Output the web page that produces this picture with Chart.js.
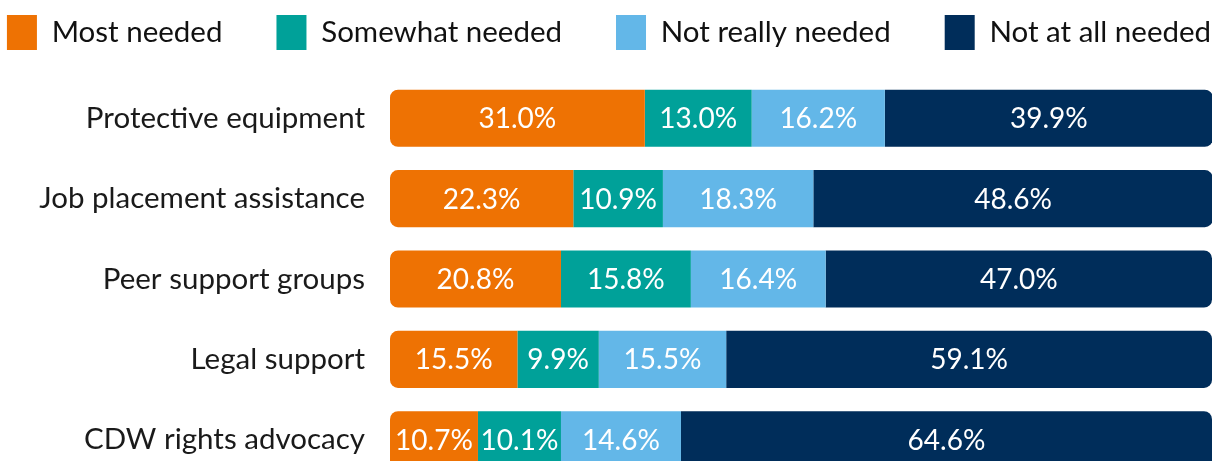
<!DOCTYPE html>
<html>
<head>
<meta charset="utf-8">
<script src="https://cdn.jsdelivr.net/npm/chart.js@4"></script>
<style>
  html, body { margin: 0; padding: 0; background: #fff; overflow: hidden; }
  /* canvas is wider than the window so the legend can spread like the original */
  #wrap { width: 1338px; height: 480px; margin-left: -60px; position: relative; }
</style>
</head>
<body>
<div id="wrap"><canvas id="needsChart"></canvas></div>
<script>
const categories = ['Protective equipment', 'Job placement assistance', 'Peer support groups', 'Legal support', 'CDW rights advocacy'];
const mostNeeded = [31.0, 22.3, 20.8, 15.5, 10.7];
const somewhatNeeded = [13.0, 10.9, 15.8, 9.9, 10.1];
const notReallyNeeded = [16.2, 18.3, 16.4, 15.5, 14.6];
const notAtAllNeeded = [39.9, 48.6, 47.0, 59.1, 64.6];

const FONT = 'Lato, "Noto Sans", sans-serif';
const R = 8;
const SHIFT = 60;      // canvas starts 60px left of the window
const RIGHT_GAP = 66;  // canvas extends 66px past the window
const TOP_PAD = -39;

// white % labels centred in each segment
const segmentLabels = {
    id: 'segmentLabels',
    afterDatasetsDraw(chart) {
        const ctx = chart.ctx;
        ctx.save();
        ctx.fillStyle = '#ffffff';
        ctx.font = `28px ${FONT}`;
        ctx.textAlign = 'center';
        ctx.textBaseline = 'middle';
        chart.data.datasets.forEach((ds, i) => {
            const meta = chart.getDatasetMeta(i);
            meta.data.forEach((bar, j) => {
                const x = (bar.x + bar.base) / 2;
                ctx.fillText(ds.data[j].toFixed(1) + '%', x, bar.y + 1);
            });
        });
        ctx.restore();
    }
};

// fixed legend block height -> chart area starts at y=78
const legendGap = {
    id: 'legendGap',
    beforeInit(chart) {
        const fit = chart.legend.fit;
        chart.legend.fit = function () {
            fit.bind(chart.legend)();
            this.height = 78 - TOP_PAD;
        };
    }
};

const ctx = document.getElementById('needsChart').getContext('2d');
new Chart(ctx, {
    type: 'bar',
    data: {
        labels: categories,
        datasets: [
            { label: 'Most needed', data: mostNeeded, backgroundColor: '#ee7203',
              borderRadius: { topLeft: R, bottomLeft: R, topRight: 0, bottomRight: 0 } },
            { label: 'Somewhat needed', data: somewhatNeeded, backgroundColor: '#00a199', borderRadius: 0 },
            { label: 'Not really needed', data: notReallyNeeded, backgroundColor: '#63b7e8', borderRadius: 0 },
            { label: 'Not at all needed', data: notAtAllNeeded, backgroundColor: '#002d5a',
              borderRadius: { topLeft: 0, bottomLeft: 0, topRight: R, bottomRight: R } }
        ]
    },
    options: {
        indexAxis: 'y',
        responsive: true,
        maintainAspectRatio: false,
        animation: false,
        layout: { padding: { top: TOP_PAD, left: 0, right: 0, bottom: 0 } },
        datasets: {
            bar: { barPercentage: 0.71, categoryPercentage: 1, borderSkipped: false, borderWidth: 0 }
        },
        scales: {
            x: { stacked: true, min: 0, max: 100, display: false },
            y: {
                stacked: true,
                grid: { display: false, drawTicks: false },
                border: { display: false },
                ticks: { color: '#1a1a1a', font: { family: FONT, size: 29.5 }, padding: 25 },
                afterFit: (scale) => {
                    scale.width = 390 + SHIFT;
                    scale.paddingTop = 0;
                    scale.paddingBottom = 0;
                }
            },
            yRight: {
                type: 'linear',
                position: 'right',
                grid: { display: false, drawTicks: false },
                border: { display: false },
                ticks: { display: false },
                afterFit: (scale) => { scale.width = RIGHT_GAP; }
            }
        },
        plugins: {
            legend: {
                position: 'top',
                labels: {
                    boxWidth: 30,
                    boxHeight: 35,
                    padding: 54,
                    color: '#111111',
                    font: { family: FONT, size: 29.5 }
                }
            },
            tooltip: { enabled: false }
        }
    },
    plugins: [segmentLabels, legendGap]
});
</script>
</body>
</html>
